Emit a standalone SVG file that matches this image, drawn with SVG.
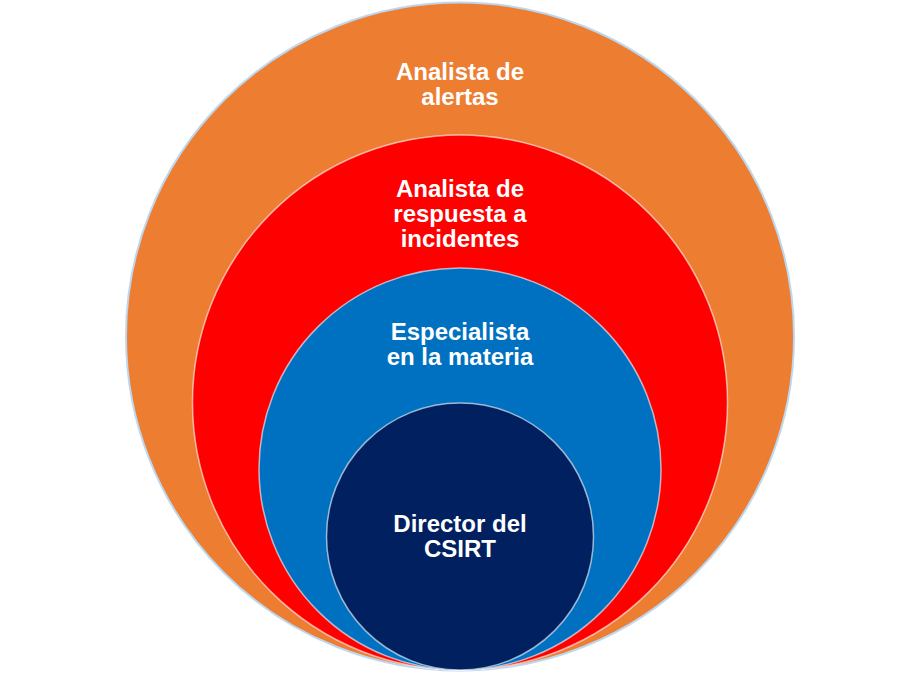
<svg xmlns="http://www.w3.org/2000/svg" width="920" height="673" viewBox="0 0 920 673">
<style>
.lbl{font-family:"Liberation Sans",Arial,sans-serif;font-weight:bold;font-size:24px;fill:#FFFFFF;text-anchor:middle}
.ring{stroke:#FFFFFF;stroke-opacity:0.6;stroke-width:1.5}
</style>
<rect width="920" height="673" fill="#FFFFFF"/>
<g id="connectors"></g>
<g id="node-alertas">
<circle cx="460" cy="336.5" r="334" fill="#ED7D31" stroke="#BDD7EE" stroke-width="2"/>
<text class="lbl" x="460" y="79.5">Analista de</text>
<text class="lbl" x="460" y="104.5">alertas</text>
</g>
<g id="node-incidentes">
<circle class="ring" cx="460" cy="402.5" r="267.5" fill="#FF0000"/>
<text class="lbl" x="460" y="197">Analista de</text>
<text class="lbl" x="460" y="222">respuesta a</text>
<text class="lbl" x="460" y="247">incidentes</text>
</g>
<g id="node-especialista">
<circle class="ring" cx="460" cy="469" r="201" fill="#0070C0"/>
<text class="lbl" x="460" y="339.5">Especialista</text>
<text class="lbl" x="460" y="364.5">en la materia</text>
</g>
<g id="node-director">
<circle class="ring" cx="460" cy="536.5" r="133.5" fill="#002060"/>
<text class="lbl" x="460" y="532">Director del</text>
<text class="lbl" x="460" y="557">CSIRT</text>
</g>
</svg>
